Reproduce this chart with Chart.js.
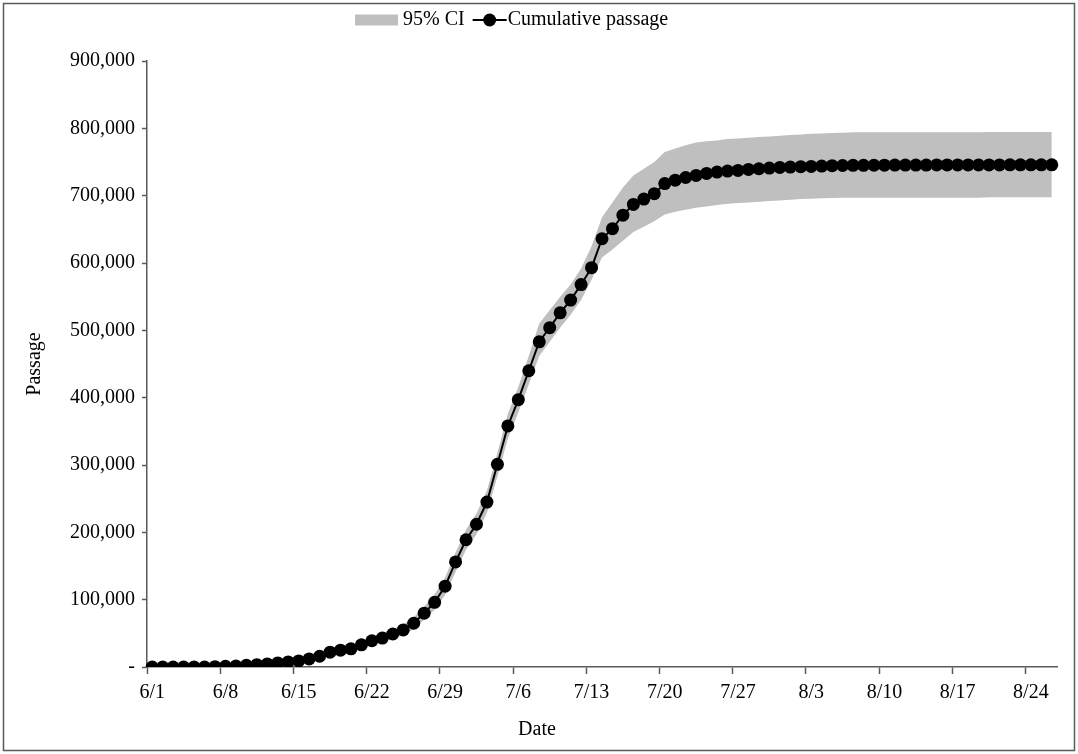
<!DOCTYPE html>
<html>
<head>
<meta charset="utf-8">
<script src="https://cdn.jsdelivr.net/npm/chart.js@4"></script>
<style>
  html, body { margin: 0; padding: 0; background: #fff; }
</style>
</head>
<body>
<canvas id="myChart" width="1078" height="754"></canvas>
<script>
// daily dates, 6/1 - 8/26
const dates = [
  '6/1','6/2','6/3','6/4','6/5','6/6','6/7','6/8','6/9','6/10',
  '6/11','6/12','6/13','6/14','6/15','6/16','6/17','6/18','6/19','6/20',
  '6/21','6/22','6/23','6/24','6/25','6/26','6/27','6/28','6/29','6/30',
  '7/1','7/2','7/3','7/4','7/5','7/6','7/7','7/8','7/9','7/10',
  '7/11','7/12','7/13','7/14','7/15','7/16','7/17','7/18','7/19','7/20',
  '7/21','7/22','7/23','7/24','7/25','7/26','7/27','7/28','7/29','7/30',
  '7/31','8/1','8/2','8/3','8/4','8/5','8/6','8/7','8/8','8/9',
  '8/10','8/11','8/12','8/13','8/14','8/15','8/16','8/17','8/18','8/19',
  '8/20','8/21','8/22','8/23','8/24','8/25','8/26'
];

const passage = [
  0, 0, 0, 0, 0, 0, 500, 1000, 1500, 2500,
  3500, 4500, 6000, 7500, 9000, 12000, 16000, 22000, 25000, 27000,
  33000, 39000, 43000, 49000, 55000, 65000, 80000, 96000, 120000, 156000,
  189000, 212000, 245000, 301000, 358000, 397000, 440000, 483000, 504000, 526000,
  545000, 568000, 593000, 636000, 651000, 671000, 687000, 695000, 703000, 718000,
  723000, 727000, 730000, 733000, 735000, 736500, 737500, 739000, 740000, 741000,
  742000, 742500, 743000, 743500, 744000, 744500, 744800, 745000, 745100, 745200,
  745300, 745400, 745500, 745500, 745500, 745600, 745600, 745600, 745700, 745700,
  745700, 745700, 745800, 745800, 745800, 745800, 745800
];

const ciLower = [
  0, 0, 0, 0, 0, 0, 300, 600, 1000, 1800,
  2600, 3400, 4600, 5800, 7000, 9500, 13000, 18000, 21000, 23000,
  28000, 33000, 37000, 42000, 47000, 56000, 70000, 85000, 107000, 141000,
  174000, 197000, 229000, 283000, 339000, 378000, 420000, 462000, 483000, 504000,
  523000, 545000, 575000, 608000, 620000, 633000, 646000, 654000, 662000, 672000,
  676000, 679000, 682000, 684000, 686000, 688000, 689000, 690000, 691000, 692000,
  693000, 694000, 695000, 695500, 696000, 696500, 697000, 697000, 697000, 697000,
  697000, 697000, 697000, 697000, 697000, 697000, 697000, 697000, 697000, 697000,
  697500, 697500, 697500, 697500, 697500, 697500, 697500
];

const ciUpper = [
  0, 0, 0, 0, 0, 500, 800, 1400, 2000, 3200,
  4500, 5800, 7500, 9300, 11500, 15000, 20000, 26000, 30000, 32000,
  38000, 45000, 50000, 56000, 63000, 74000, 90000, 108000, 133000, 170000,
  204000, 228000, 262000, 318000, 376000, 416000, 462000, 510000, 530000, 550000,
  568000, 592000, 625000, 668000, 690000, 712000, 730000, 740000, 750000, 765000,
  770000, 775000, 779000, 781000, 782000, 784000, 785000, 786000, 787000, 788000,
  789000, 790000, 791000, 792000, 792500, 793000, 793500, 794000, 794000, 794000,
  794000, 794000, 794000, 794000, 794000, 794000, 794000, 794000, 794000, 794000,
  794500, 794500, 794500, 794500, 794500, 794500, 794500
];

const yTicks = [0, 100000, 200000, 300000, 400000, 500000, 600000, 700000, 800000, 900000];

const AXIS = '#595959';
const BAND = '#bfbfbf';
const FONT = "'Liberation Serif', 'Times New Roman', serif";

Chart.defaults.font.family = FONT;
Chart.defaults.font.size = 20;
Chart.defaults.color = '#000';

// outer frame + Excel-like legend (box for the band, line with marker for the series)
const frame = {
  id: 'frame',
  afterDraw(chart) {
    const ctx = chart.ctx;
    const band = chart.data.datasets[2];
    const line = chart.data.datasets[0];
    ctx.save();
    ctx.strokeStyle = AXIS;
    ctx.lineWidth = 1.5;
    ctx.strokeRect(3.5, 3.5, 1071, 747);

    const y = 20;
    let x = 355;
    ctx.fillStyle = BAND;
    ctx.fillRect(x, y - 5.5, 43, 11);
    x += 48;
    ctx.font = '20px ' + FONT;
    ctx.fillStyle = '#000';
    ctx.textBaseline = 'middle';
    ctx.textAlign = 'left';
    ctx.fillText(band.label, x, y);
    x += ctx.measureText(band.label).width + 8;
    ctx.strokeStyle = '#000';
    ctx.lineWidth = 2;
    ctx.beginPath(); ctx.moveTo(x, y); ctx.lineTo(x + 34, y); ctx.stroke();
    ctx.beginPath(); ctx.arc(x + 17, y, 6.5, 0, Math.PI * 2); ctx.fill();
    x += 35;
    ctx.fillText(line.label, x, y);
    ctx.restore();
  }
};

const data = {
  labels: dates,
  datasets: [{
    label: 'Cumulative passage',
    data: passage,
    borderColor: '#000',
    backgroundColor: '#000',
    borderWidth: 2,
    pointRadius: 6.5,
    pointBorderWidth: 0,
    pointBackgroundColor: '#000',
    fill: false,
    tension: 0,
  },{
    label: 'lower',
    data: ciLower,
    borderWidth: 0,
    pointRadius: 0,
    fill: false,
  },{
    label: '95% CI',
    data: ciUpper,
    borderWidth: 0,
    pointRadius: 0,
    backgroundColor: BAND,
    fill: '-1',
  }]
};

const config = {
  type: 'line',
  data: data,
  options: {
    responsive: false,
    animation: false,
    devicePixelRatio: 1,
    layout: { padding: { top: 61, left: 17, right: 21, bottom: 0 } },
    scales: {
      x: {
        type: 'category',
        offset: true,
        afterFit(scale) { scale.height = 47; },
        grid: {
          offset: true,
          drawOnChartArea: false,
          tickLength: 7,
          tickWidth: 1.5,
          tickColor: (ctx) => (ctx.index % 7 === 0 ? AXIS : 'rgba(0,0,0,0)'),
        },
        border: { color: AXIS, width: 1.5 },
        ticks: {
          autoSkip: false,
          maxRotation: 0,
          padding: 7,
          callback: (val, idx) => (idx % 7 === 0 ? dates[idx] : ''),
        },
      },
      y: {
        type: 'linear',
        min: 0,
        max: 900000,
        afterFit(scale) { scale.width = 130; },
        afterBuildTicks(scale) { scale.ticks = yTicks.map(v => ({ value: v })); },
        grid: {
          drawOnChartArea: false,
          tickLength: 5,
          tickWidth: 1.5,
          tickColor: AXIS,
        },
        border: { color: AXIS, width: 1.5 },
        ticks: {
          padding: 7,
          callback: (v) => (v === 0 ? '-' : v.toLocaleString('en-US')),
        },
        title: {
          display: true,
          text: 'Passage',
          padding: { top: 6, bottom: 0 },
        },
      }
    },
    plugins: {
      legend: { display: false },
      title: {
        display: true,
        position: 'bottom',
        text: 'Date',
        font: { size: 20, weight: 'normal' },
        padding: { top: 4, bottom: 12 },
      },
      tooltip: { enabled: false },
    },
  },
  plugins: [frame],
};

const myChart = new Chart(document.getElementById('myChart'), config);
</script>
</body>
</html>
